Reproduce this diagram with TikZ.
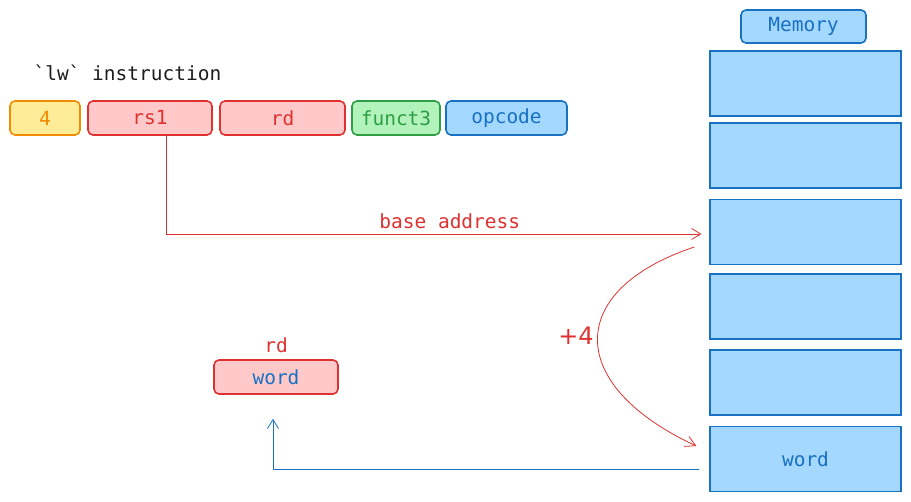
\documentclass[tikz,border=0pt]{standalone}
\usepackage{fontspec}
\setmonofont{DejaVu Sans Mono}
\setsansfont{DejaVu Sans}
\usepackage{xcolor}
\usetikzlibrary{positioning,calc,arrows.meta}

\definecolor{redline}{HTML}{E03131}
\definecolor{redfill}{HTML}{FFC9C9}
\definecolor{orangeline}{HTML}{F08C00}
\definecolor{orangefill}{HTML}{FFEC99}
\definecolor{greenline}{HTML}{2F9E44}
\definecolor{greenfill}{HTML}{B2F2BB}
\definecolor{blueline}{HTML}{1971C2}
\definecolor{bluefill}{HTML}{A5D8FF}
\definecolor{ink}{HTML}{1E1E1E}

\tikzset{
    field/.style={draw, line width=1.6pt, rounded corners=5pt, minimum height=34pt,
        inner sep=0pt, font=\ttfamily\fontsize{19.5}{19.5}\selectfont},
    cell/.style={draw=blueline, fill=bluefill, line width=1.2pt, minimum width=191pt,
        minimum height=65pt, inner sep=0pt, text=blueline,
        font=\ttfamily\fontsize{19.5}{19.5}\selectfont},
    lbl/.style={font=\ttfamily\fontsize{19.5}{19.5}\selectfont}
}

\begin{document}
\begin{tikzpicture}[x=1pt, y=-1pt]
    \useasboundingbox (0,0) rectangle (911,502);

    % Instruction fields
    \node[lbl, text=ink, anchor=west] (title) at (30,73) {\textasciigrave lw\textasciigrave{} instruction};
    \node[field, draw=orangeline, fill=orangefill, text=orangeline, minimum width=70pt] (imm) at (45,118) {4};
    \node[field, draw=redline, fill=redfill, text=redline, minimum width=124pt] (rs1) at (150,118) {rs1};
    \node[field, draw=redline, fill=redfill, text=redline, minimum width=125pt] (rd) at (282.5,118) {rd};
    \node[field, draw=greenline, fill=greenfill, text=greenline, minimum width=88pt] (funct3) at (396,118) {funct3};
    \node[field, draw=blueline, fill=bluefill, text=blueline, minimum width=121pt] (opcode) at (506.5,118) {opcode};

    % Memory
    \node[field, draw=blueline, fill=bluefill, text=blueline, minimum width=125pt, minimum height=33pt] (memory) at (803.5,26.5) {Memory};
    \foreach \i/\y in {1/83.5, 2/155.5, 3/232, 4/306.5, 5/382.5} {
        \node[cell] (m\i) at (805.5,\y) {};
    }
    \node[cell] (m6) at (805.5,459) {word};

    % Destination register
    \node[field, draw=redline, fill=redfill, text=blueline, minimum width=124pt] (rdbox) at (276,377) {word};
    \node[lbl, text=redline, above=3pt of rdbox] (rdlabel) {rd};

    % Base address
    \draw[redline, line width=0.8pt, -{Straight Barb[length=9pt, width=11pt]}] ($(rs1.south)+(16,0)$) |- ($(m3.west)+(-8,2)$)
        node[lbl, pos=0.765, above=1pt] (baselabel) {base address};

    % Offset
    \coordinate (curvestart) at ($(m3.west)+(-15,15)$);
    \coordinate (curveend) at ($(m6.west)+(-13,-13)$);
    \draw[redline, line width=0.8pt, -{Straight Barb[length=10pt, width=11pt]}] (curvestart)
        .. controls (565,290) and (565,385) .. (curveend);
    \node[text=redline, font=\sffamily\fontsize{24}{24}\selectfont] (offset) at (576,336) {+4};

    % Load result
    \draw[blueline, line width=0.8pt, -{Straight Barb[length=9pt, width=11pt]}] ($(m6.west)+(-10,10)$) -| ($(rdbox.south)+(-3,24)$);
\end{tikzpicture}
\end{document}
